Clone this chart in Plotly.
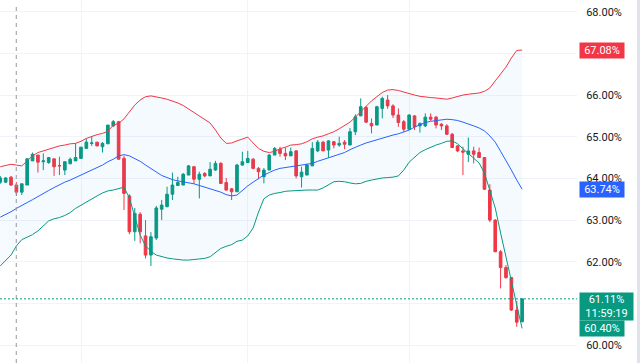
import plotly.graph_objects as go

# ---- data ----
open_ = [63.91,63.91,64.03,63.84,63.67,63.84,64.42,64.56,64.40,64.38,
         64.47,64.31,64.20,64.35,64.42,64.48,64.72,64.84,64.87,64.76,
         64.83,65.26,65.36,64.48,63.58,62.72,63.14,62.62,62.16,62.57,
         63.26,63.32,63.62,63.83,63.84,64.08,64.28,63.98,64.12,64.06,
         64.20,64.36,63.90,63.75,63.68,64.32,64.38,64.46,64.24,64.04,
         64.20,64.56,64.70,64.60,64.54,64.66,64.04,64.08,64.30,64.66,
         64.87,64.68,64.88,64.80,64.87,64.80,65.12,65.50,65.70,65.32,
         65.28,65.68,65.88,65.74,65.52,65.36,65.18,65.50,65.26,65.26,
         65.47,65.47,65.30,65.26,65.06,64.78,64.66,64.58,64.66,64.62,
         64.50,63.72,63.00,62.24,61.86,61.62,60.84,60.56]
high = [64.06,64.03,64.06,63.91,63.87,64.47,64.62,64.56,64.60,64.51,
        64.47,64.52,64.40,64.50,64.84,64.75,64.96,65.02,64.87,64.87,
        65.28,65.40,65.38,64.54,63.62,63.29,63.19,63.00,62.71,63.34,
        63.48,63.80,64.14,64.04,64.13,64.32,64.30,64.16,64.15,64.39,
        64.42,64.39,64.01,63.77,64.35,64.64,64.66,64.49,64.27,64.25,
        64.58,64.75,64.76,64.74,64.74,64.68,64.28,64.35,64.87,64.92,
        64.90,64.92,64.90,65.00,64.92,65.21,65.54,65.92,65.74,65.44,
        65.74,65.96,66.00,65.78,65.68,65.40,65.54,65.52,65.34,65.56,
        65.56,65.50,65.33,65.30,65.09,64.80,64.76,64.98,64.76,64.74,
        64.51,63.86,63.02,62.28,61.92,61.63,61.06,61.11]
low = [63.87,63.89,63.82,63.58,63.60,63.84,64.42,64.14,64.20,64.35,
       64.06,64.08,64.08,64.35,64.42,64.48,64.72,64.78,64.77,64.62,
       64.83,65.23,64.46,63.24,62.66,62.50,62.44,62.08,61.90,62.52,
       63.00,63.31,63.48,63.82,63.84,64.08,63.87,63.52,64.03,64.06,
       64.18,63.87,63.70,63.48,63.67,64.30,64.37,64.22,63.98,63.88,
       64.20,64.56,64.52,64.44,64.54,64.00,63.78,64.08,64.30,64.63,
       64.66,64.50,64.72,64.76,64.70,64.80,65.04,65.50,65.33,65.08,
       65.28,65.44,65.67,65.45,65.24,65.12,65.16,65.16,65.10,65.23,
       65.38,65.20,65.16,65.04,64.73,64.63,64.08,64.39,64.36,64.49,
       63.72,62.95,62.23,61.36,61.59,60.82,60.44,60.55]
close = [64.01,64.01,63.84,63.67,63.87,64.47,64.58,64.39,64.42,64.50,
         64.28,64.30,64.40,64.46,64.50,64.75,64.87,64.85,64.78,64.84,
         65.28,65.36,64.46,63.64,62.72,63.16,62.72,62.16,62.60,63.29,
         63.36,63.62,63.84,63.90,64.10,64.30,63.98,64.10,64.06,64.22,
         64.36,63.88,63.72,63.68,64.32,64.40,64.48,64.24,64.16,64.20,
         64.56,64.72,64.60,64.54,64.64,64.06,64.15,64.32,64.72,64.87,
         64.66,64.90,64.80,64.84,64.82,65.12,65.48,65.72,65.35,65.26,
         65.72,65.92,65.74,65.52,65.34,65.18,65.52,65.24,65.32,65.47,
         65.42,65.28,65.26,65.06,64.74,64.66,64.63,64.66,64.58,64.50,
         63.74,63.00,62.24,61.86,61.62,60.84,60.55,61.11]
upper = [64.28,64.31,64.34,64.32,64.30,64.42,64.54,64.62,64.66,64.71,
         64.75,64.78,64.80,64.83,64.84,64.89,64.96,65.01,65.05,65.08,
         65.13,65.28,65.32,65.43,65.61,65.76,65.88,65.96,65.98,65.96,
         65.93,65.90,65.86,65.81,65.75,65.67,65.58,65.49,65.41,65.33,
         65.16,64.97,64.84,64.85,64.90,64.95,64.99,64.85,64.72,64.65,
         64.62,64.65,64.71,64.75,64.80,64.81,64.83,64.88,64.95,64.99,
         65.02,65.07,65.12,65.19,65.27,65.35,65.47,65.59,65.73,65.86,
         65.95,66.06,66.12,66.13,66.11,66.07,66.03,66.00,65.97,65.95,
         65.94,65.93,65.91,65.90,65.93,65.97,66.00,66.02,66.04,66.05,
         66.09,66.17,66.34,66.52,66.67,66.89,67.07,67.08]
middle = [63.07,63.13,63.20,63.28,63.36,63.42,63.49,63.57,63.64,63.71,
          63.78,63.85,63.91,63.96,64.02,64.07,64.14,64.20,64.26,64.32,
          64.40,64.46,64.54,64.57,64.54,64.48,64.41,64.32,64.23,64.14,
          64.07,64.02,63.97,63.94,63.92,63.89,63.87,63.83,63.79,63.76,
          63.72,63.67,63.61,63.58,63.60,63.72,63.82,63.91,64.00,64.08,
          64.14,64.20,64.24,64.26,64.28,64.30,64.32,64.34,64.36,64.41,
          64.45,64.50,64.54,64.57,64.62,64.69,64.75,64.80,64.85,64.89,
          64.93,64.97,65.01,65.04,65.07,65.11,65.16,65.23,65.29,65.34,
          65.37,65.39,65.41,65.42,65.41,65.39,65.35,65.31,65.26,65.21,
          65.14,65.02,64.87,64.65,64.44,64.20,63.96,63.74]
lower = [61.90,62.04,62.16,62.38,62.53,62.59,62.65,62.74,62.86,62.98,
         63.03,63.06,63.11,63.18,63.28,63.36,63.42,63.51,63.58,63.65,
         63.70,63.72,63.75,63.79,63.53,63.10,62.64,62.38,62.25,62.16,
         62.12,62.09,62.07,62.05,62.04,62.04,62.05,62.07,62.08,62.12,
         62.21,62.32,62.37,62.41,62.49,62.52,62.62,62.81,63.19,63.51,
         63.60,63.64,63.66,63.69,63.70,63.71,63.72,63.72,63.72,63.72,
         63.77,63.85,63.92,63.93,63.92,63.89,63.87,63.88,63.93,63.96,
         63.99,64.01,64.02,64.03,64.06,64.20,64.39,64.51,64.62,64.69,
         64.75,64.80,64.84,64.89,64.90,64.83,64.71,64.59,64.49,64.37,
         64.13,63.72,63.29,62.69,62.09,61.51,60.96,60.40]
y_ticks = [60, 61, 62, 63, 64, 65, 66, 67, 68]
# 61.00% and 67.00% sit under the price labels in the reference, so they show no text
y_tick_labels = ["60.00%", "", "62.00%", "63.00%", "64.00%", "65.00%", "66.00%", "", "68.00%"]
x_grid = [15.05, 45.9, 76.0]
marker_bar = 2.97
countdown = "11:59:19"

GREEN = "#089981"
RED = "#F23645"
BLUE = "#2962FF"
x = list(range(len(close)))

fig = go.Figure()
fig.add_trace(go.Scatter(x=x, y=upper, mode="lines", line=dict(color=RED, width=1),
                         hoverinfo="skip"))
fig.add_trace(go.Scatter(x=x, y=lower, mode="lines", line=dict(color=GREEN, width=1),
                         fill="tonexty", fillcolor="rgba(33,150,243,0.05)", hoverinfo="skip"))
fig.add_trace(go.Scatter(x=x, y=middle, mode="lines", line=dict(color=BLUE, width=1),
                         hoverinfo="skip"))
fig.add_trace(go.Candlestick(
    x=x, open=open_, high=high, low=low, close=close,
    increasing=dict(line=dict(color=GREEN, width=1), fillcolor=GREEN),
    decreasing=dict(line=dict(color=RED, width=1), fillcolor=RED),
    whiskerwidth=0))

last = close[-1]
fig.update_layout(
    width=640, height=363,
    margin=dict(l=0, r=63, t=0, b=0, autoexpand=False),
    paper_bgcolor="white", plot_bgcolor="white",
    showlegend=False,
    xaxis=dict(range=[-0.05, 107.2], tickvals=x_grid, showticklabels=False,
               showgrid=True, gridcolor="#f0f3fa", zeroline=False, automargin=False,
               rangeslider=dict(visible=False), ticks=""),
    yaxis=dict(side="right", range=[59.570, 68.281], tickvals=y_ticks,
               ticktext=y_tick_labels, automargin=False,
               showgrid=True, gridcolor="#f0f3fa",
               zeroline=False, ticks="outside", ticklen=6, tickcolor="rgba(0,0,0,0)",
               tickfont=dict(family="Roboto", size=11, color="#131722")),
    shapes=[
        dict(type="line", xref="x", yref="paper", x0=marker_bar, x1=marker_bar, y0=0, y1=0.985,
             line=dict(color="#9598a1", width=1, dash="4px,4px")),
        dict(type="line", xref="paper", yref="y", x0=0, x1=1, y0=last, y1=last,
             line=dict(color=GREEN, width=1, dash="2px,2px")),
        dict(type="rect", xref="paper", yref="paper", x0=637/577, x1=640/577, y0=0, y1=1,
             fillcolor="#e0e3eb", line=dict(width=0)),
    ],
)

def label(val, text, color, w=42, h=13, **kw):
    fig.add_annotation(x=1, xref="paper", xshift=2, xanchor="left", y=val, yref="y",
                       text=text, showarrow=False, bgcolor=color, borderpad=1,
                       width=w, height=h, align="center",
                       font=dict(family="Roboto", size=11, color="white"), **kw)

label(upper[-1], f"{upper[-1]:.2f}%", RED)
label(middle[-1], f"{middle[-1]:.2f}%", BLUE)
label(last, f"{last:.2f}%<br>{countdown}", GREEN, w=51, h=25, yanchor="top", yshift=7)
label(lower[-1], f"{lower[-1]:.2f}%", GREEN)

fig.write_html("out.html", config={"displayModeBar": False},
               post_script="document.body.style.margin='0px';")
